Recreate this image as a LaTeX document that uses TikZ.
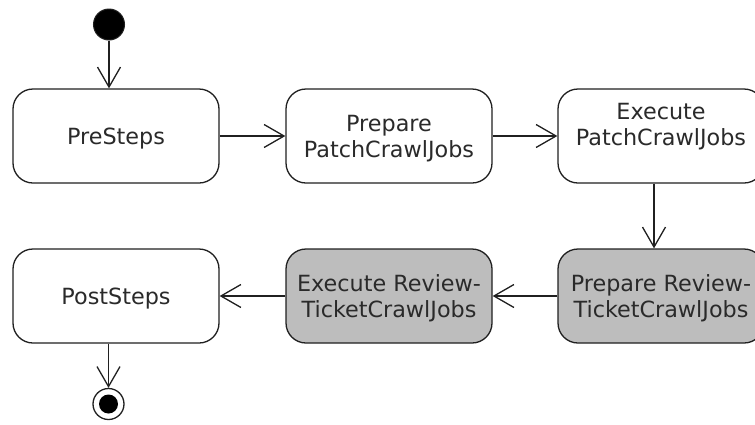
\documentclass[tikz,border=0pt]{standalone}
\usepackage{fontspec}
\setmainfont{DejaVu Sans}
\usetikzlibrary{arrows.meta}
\definecolor{edgecol}{HTML}{202020}
\definecolor{txtcol}{HTML}{2A2A2A}
\definecolor{grayfill}{HTML}{BDBDBD}
\begin{document}
\begin{tikzpicture}[x=1pt,y=-1pt,
  txtstyle/.style={text=txtcol, font=\fontsize{22.3}{26}\selectfont, align=center, text depth=0pt},
  box/.style={draw=edgecol, line width=1.3pt, rounded corners=20pt, fill=white,
    minimum width=206pt, minimum height=94pt, inner sep=0pt, txtstyle},
  graybox/.style={box, fill=grayfill},
  conn/.style={draw=edgecol, line width=1.3pt, -{Straight Barb[length=20pt,width=23pt,line width=1.3pt]}}
]
\useasboundingbox (0,0) rectangle (755,424);
\node[circle, fill=black, draw=edgecol, line width=1pt, minimum size=31pt, inner sep=0pt] (start) at (109,24.5) {};
\node[box] (pre) at (116,136) {PreSteps};
\node[box] (prep) at (389,136) {Prepare\\PatchCrawlJobs};
\node[box, label={[yshift=12pt, txtstyle]center:{Execute\\PatchCrawlJobs}}] (exec) at (661,136) {};
\node[graybox] (prr) at (661,296) {Prepare Review-\\TicketCrawlJobs};
\node[graybox] (exr) at (389,296) {Execute Review-\\TicketCrawlJobs};
\node[box] (post) at (116,296) {PostSteps};
\node[circle, draw=edgecol, line width=1.3pt, fill=white, minimum size=31pt, inner sep=0pt] (endc) at (108.5,404) {};
\node[circle, fill=black, minimum size=19pt, inner sep=0pt] (endi) at (endc.center) {};
\draw[conn] (start) -- (pre.north -| start);
\draw[conn] (pre) -- (prep);
\draw[conn] (prep) -- (exec);
\draw[conn] ([xshift=-7pt]exec.south) -- ([xshift=-7pt]prr.north);
\draw[conn] (prr) -- (exr);
\draw[conn] (exr) -- (post);
\draw[conn] (post.south -| endc) -- (endc);
\end{tikzpicture}
\end{document}
